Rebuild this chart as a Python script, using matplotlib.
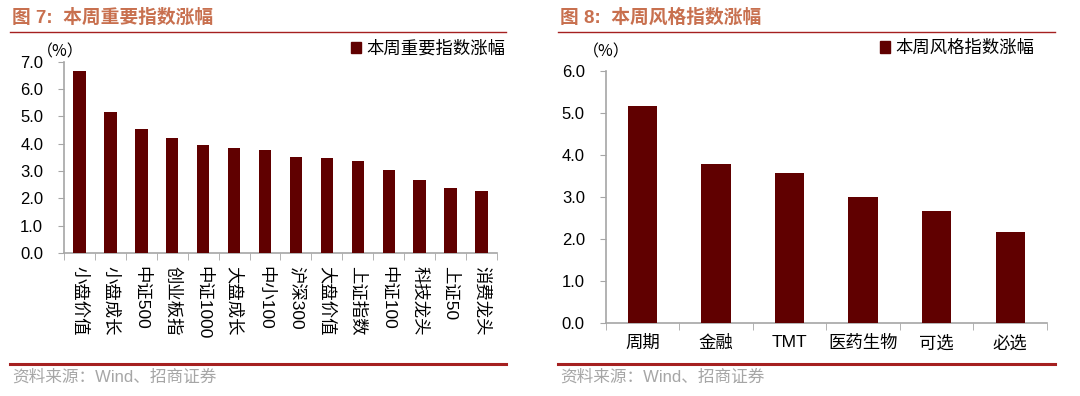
import matplotlib
matplotlib.use("Agg")
import matplotlib.pyplot as plt
from matplotlib.lines import Line2D
from matplotlib.patches import Patch
import numpy as np

plt.rcParams['font.family'] = ['Liberation Sans', 'Noto Sans CJK SC', 'DejaVu Sans']

# ---- data ----
left_title = "图 7:  本周重要指数涨幅"
left_series = "本周重要指数涨幅"
left_cats = ["小盘价值", "小盘成长", "中证500", "创业板指", "中证1000", "大盘成长", "中小100",
             "沪深300", "大盘价值", "上证指数", "中证100", "科技龙头", "上证50", "消费龙头"]
left_vals = [6.65, 5.15, 4.52, 4.19, 3.96, 3.85, 3.76, 3.51, 3.47, 3.38, 3.05, 2.67, 2.39, 2.27]
left_yticks = [0.0, 1.0, 2.0, 3.0, 4.0, 5.0, 6.0, 7.0]

right_title = "图 8:  本周风格指数涨幅"
right_series = "本周风格指数涨幅"
right_cats = ["周期", "金融", "TMT", "医药生物", "可选", "必选"]
right_vals = [5.15, 3.79, 3.56, 2.99, 2.67, 2.15]
right_yticks = [0.0, 1.0, 2.0, 3.0, 4.0, 5.0, 6.0]

source = "资料来源：Wind、招商证券"
unit = "（%）"

BAR = "#600000"
AXC = "#A6A6A6"
TITLEC = "#C8704F"
LINEC = "#A52020"

W, H = 1080, 396
fig = plt.figure(figsize=(W / 100, H / 100), dpi=100)


def fx(px):
    return px / W


def fy(py):
    return 1 - py / H


def panel(rect, cats, vals, yticks, rot, title, series, tx, line_x0, line_x1, unit_x, unit_y, leg_x):
    ax = fig.add_axes(rect)
    x = np.arange(len(cats))
    ax.bar(x, vals, width=0.4, color=BAR, zorder=3)
    ax.set_xlim(-0.5, len(cats) - 0.5)
    ax.set_ylim(yticks[0], yticks[-1])
    ax.set_yticks(yticks)
    ax.set_yticklabels([f"{v:.1f}" for v in yticks], fontsize=12, color="#000000")
    ax.tick_params(axis='y', length=4, color=AXC, pad=11)
    ax.set_xticks(x)
    if rot:
        ax.set_xticklabels(cats, rotation=-90, va='top', ha='center', fontsize=12.5)
        ax.tick_params(axis='x', which='major', length=0, pad=9)
    else:
        ax.set_xticklabels(cats, fontsize=12.5)
        ax.tick_params(axis='x', which='major', length=0, pad=9)
    ax.set_xticks(np.arange(len(cats) + 1) - 0.5, minor=True)
    ax.tick_params(axis='x', which='minor', length=5, color=AXC, direction='out')
    for s in ['top', 'right']:
        ax.spines[s].set_visible(False)
    for s in ['left', 'bottom']:
        ax.spines[s].set_color(AXC)
        ax.spines[s].set_linewidth(1.2)
    # title & decorative lines
    fig.text(fx(tx), fy(18), title, fontsize=13.5, fontweight='bold', color=TITLEC,
             ha='left', va='center')
    fig.add_artist(Line2D([fx(line_x0), fx(line_x1)], [fy(32.3), fy(32.3)], color=LINEC, lw=1.0))
    fig.add_artist(Line2D([fx(line_x0), fx(line_x1)], [fy(364.3), fy(364.3)], color=LINEC, lw=2.2))
    fig.text(fx(line_x0 + 2), fy(377), source, fontsize=12, color="#A6A6A6", ha='left', va='center')
    fig.text(fx(unit_x), fy(unit_y), unit, fontsize=11.5, color="#000000", ha='center', va='center',
             family=['Noto Sans CJK SC', 'DejaVu Sans'])
    fig.legend(handles=[Patch(facecolor=BAR, edgecolor=BAR, label=series)],
               loc='center left', bbox_to_anchor=(fx(leg_x), fy(48)), frameon=False,
               handlelength=0.6, handleheight=0.6, handletextpad=0.3, fontsize=12.5,
               borderaxespad=0, borderpad=0)
    return ax


panel([fx(64), fy(253), fx(497 - 64), (253 - 61.7) / H], left_cats, left_vals, left_yticks, True,
      left_title, left_series, 12, 10, 506, 60, 52, 351)
panel([fx(605.7), fy(322.7), fx(1047 - 605.7), (322.7 - 70.7) / H], right_cats, right_vals, right_yticks,
      False, right_title, right_series, 560, 558, 1055, 606, 52, 880)

fig.savefig("out.png", dpi=100)
